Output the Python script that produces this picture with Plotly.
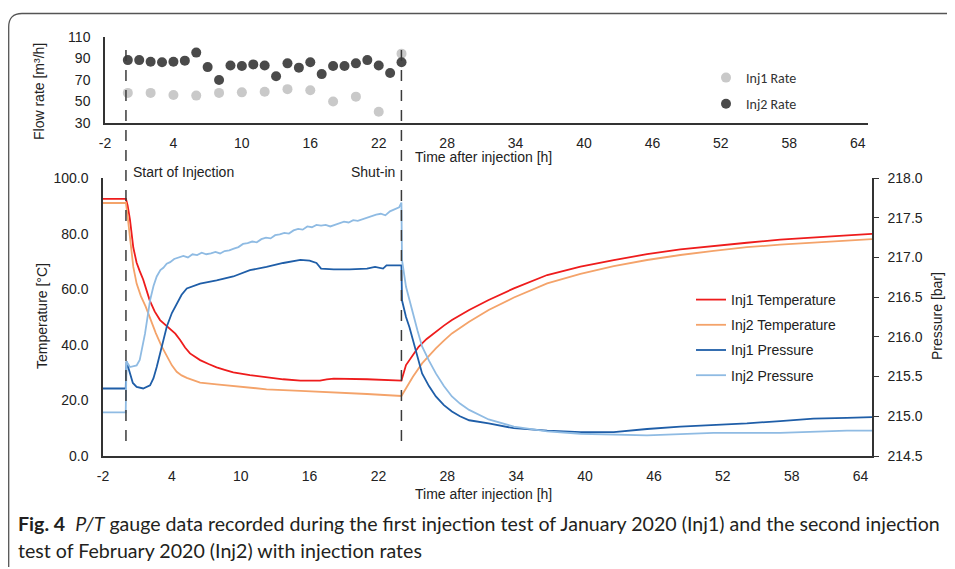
import plotly.graph_objects as go

# ---------------- data ----------------
# Flow rates (top panel)
rate1_t = [0, 2, 4, 6, 8, 10, 12, 14, 16, 18, 20, 22, 24]
rate1 = [58, 58, 56, 55.5, 58, 58.5, 59, 61.5, 60.5, 50, 54.5, 40.5, 94.5]
rate2_t = [0, 1, 2, 3, 4, 5, 6, 7, 8, 9, 10, 11, 12, 13, 14, 15, 16, 17, 18, 19, 20, 21, 22, 23, 24]
rate2 = [88.5, 88.5, 87, 86.5, 87, 88, 95.5, 82, 70, 83.5, 83, 84.5, 83.5, 73.5, 85.5,
         81.5, 86.5, 75.5, 83, 83, 85.5, 88.5, 83.5, 76.5, 86.5]

# Inj1 temperature [°C]
t_T1 = [-2, 0, 0.15, 0.35, 0.64, 0.93, 1.2, 1.5, 2.07, 2.5, 2.97, 3.4, 3.85, 4.3, 4.72, 5.15,
        5.58, 6.0, 6.46, 7.2, 7.9, 8.6, 9.35, 10.8, 12.25, 13.7, 15.2, 16.9, 17.5, 18.1, 21, 24,
        24.4, 25.0, 25.5, 26.2, 27, 27.7, 28.4, 29.9, 31.6, 33.8, 36.7, 39.6, 42.5, 45.4, 48.3,
        51.2, 54.1, 57.0, 59.9, 62.5, 65]
T1 = [92.5, 92.5, 90, 85, 75, 69.5, 66.5, 63.5, 56, 52, 48.9, 47.3, 45.9, 44, 41.7, 39,
      36.9, 35.6, 34.5, 33.1, 31.9, 31, 30.1, 29.1, 28.3, 27.6, 27.1, 27.1, 27.6, 27.8, 27.6, 27.1,
      32.7, 36.4, 39.3, 42.1, 44.7, 46.9, 48.9, 52.5, 56.1, 60.3, 65.1, 68.1, 70.5, 72.6, 74.3,
      75.6, 76.7, 77.8, 78.7, 79.3, 79.9]

# Inj2 temperature [°C]
t_T2 = [-2, 0, 0.15, 0.35, 0.64, 0.93, 1.3, 1.72, 2.15, 2.6, 3.1, 3.56, 4.0, 4.42, 4.85, 5.3,
        5.9, 6.46, 7.9, 9.35, 12.25, 15.2, 18.1, 21, 24,
        24.5, 25, 25.8, 26.4, 27, 27.7, 28.4, 29.9, 31.6, 33.8, 36.7, 39.6, 42.5, 45.4, 48.3,
        51.2, 54.1, 57.0, 59.9, 62.5, 65]
T2 = [91, 91, 86, 78, 68, 62, 57.5, 53.7, 49, 44.2, 39.5, 35.7, 32.6, 30.3, 29, 28.1,
      27.1, 26.4, 25.8, 25.2, 24, 23.4, 22.9, 22.3, 21.6,
      25.2, 28.5, 33.3, 36.1, 38.7, 41.5, 44.1, 48.3, 52.5, 57, 62.1, 65.5, 68.3, 70.5, 72.3,
      73.8, 75.1, 76, 76.7, 77.4, 78]

# Inj1 pressure [bar]
t_P1 = [-2, -0.02, 0.05, 0.3, 0.6, 0.93, 1.5, 2.1, 2.4, 2.68, 3.1, 3.56, 4.0, 4.42, 4.85, 5.3,
        6.46, 7.9, 9.35, 10.8, 12.25, 13.7, 15.2, 16.0, 16.6, 17.0, 18.1, 19.5, 21, 21.7, 22.1,
        22.4, 22.7, 24, 24.05, 24.4, 24.7, 25, 25.4, 25.8, 26.4, 27, 27.7, 28.4, 29.1, 29.9,
        31.6, 33.8, 36.7, 39.6, 42.5, 45.4, 48.3, 51.2, 54.1, 57.0, 59.9, 62.8, 65]
P1 = [215.35, 215.35, 215.69, 215.55, 215.42, 215.37, 215.35, 215.39, 215.48, 215.62, 215.88,
      216.13, 216.3, 216.42, 216.53, 216.61, 216.67, 216.71, 216.76, 216.84, 216.88, 216.93,
      216.97, 216.96, 216.93, 216.86, 216.85, 216.85, 216.86, 216.88, 216.87, 216.86, 216.9,
      216.9, 216.46, 216.25, 216.12, 215.96, 215.75, 215.54, 215.38, 215.25, 215.14, 215.06,
      215.0, 214.95, 214.91, 214.85, 214.82, 214.8, 214.8, 214.84, 214.87, 214.89, 214.91,
      214.94, 214.97, 214.98, 214.99]

# Inj2 pressure [bar]
t_P2 = [-2, -0.02, 0.05, 0.35, 0.93, 1.2, 1.66, 2.1, 2.4, 2.68, 3.0, 3.26, 3.55, 3.85,
        4.2, 4.6, 5.0, 5.4, 5.8, 6.2, 6.6, 7.0, 7.4, 7.8, 8.2, 8.6, 9.0, 9.4, 9.8, 10.2, 10.6,
        11.0, 11.4, 11.8, 12.2, 12.6, 13.0, 13.4, 13.8, 14.2, 14.6, 15.0, 15.4, 15.8, 16.2,
        16.6, 17.0, 17.4, 17.8, 18.2, 18.6, 19.0, 19.4, 19.8, 20.2, 20.6, 21.0, 21.4, 21.8,
        22.2, 22.6, 23.0, 23.4, 23.8, 24,
        24.05, 24.4, 24.7, 25, 25.4, 25.8, 26.4, 27, 27.7, 28.4, 29.1, 29.9, 31.6, 33.8, 36.7,
        39.6, 45.4, 51.2, 57.0, 62.8, 65]
P2 = [215.05, 215.05, 215.69, 215.62, 215.64, 215.71, 216.04, 216.46, 216.64, 216.76, 216.84,
      216.87, 216.92, 216.94,
      216.98, 217.0, 217.02, 217.0, 217.04, 217.03, 217.06, 217.04, 217.05, 217.07, 217.05,
      217.08, 217.09, 217.11, 217.13, 217.17, 217.18, 217.2, 217.19, 217.23, 217.25, 217.24,
      217.28, 217.29, 217.31, 217.3, 217.34, 217.36, 217.35, 217.39, 217.38, 217.41, 217.4,
      217.41, 217.39, 217.41, 217.43, 217.45, 217.44, 217.47, 217.46, 217.48, 217.5, 217.52,
      217.54, 217.55, 217.53, 217.58, 217.6, 217.63, 217.69,
      216.97, 216.63, 216.45, 216.3, 216.08, 215.88, 215.7, 215.54, 215.38, 215.25, 215.16,
      215.08, 214.96, 214.87, 214.81, 214.78, 214.76, 214.79, 214.79, 214.82, 214.82]

x_ticks = [-2, 4, 10, 16, 22, 28, 34, 40, 46, 52, 58, 64]
x_tick_labels = ["-2", "4", "10", "16", "22", "28", "34", "40", "46", "52", "58", "64"]
event_t = [0, 24]
event_labels = ["Start of Injection", "Shut-in"]

caption1 = ("<b>Fig. 4</b>  <i>P/T</i> gauge data recorded during the first injection test of "
            "January 2020 (Inj1) and the second injection")
caption2 = "test of February 2020 (Inj2) with injection rates"

# ---------------- figure ----------------
W, H = 955, 569
OFF = 8  # the page body adds an 8px margin around the figure


def py(p):
    return 1 - (p - OFF) / H


def px(p):
    return (p - OFF) / W


FONT = "Liberation Sans, Arial, sans-serif"
AX = "#333333"

fig = go.Figure()

fig.add_trace(go.Scatter(x=rate1_t, y=rate1, mode="markers", name="Inj1 Rate",
                         marker=dict(color="#c9c9c9", size=10), xaxis="x", yaxis="y",
                         legend="legend", legendgroup="a"))
fig.add_trace(go.Scatter(x=rate2_t, y=rate2, mode="markers", name="Inj2 Rate",
                         marker=dict(color="#4a4a4a", size=10), xaxis="x", yaxis="y",
                         legend="legend", legendgroup="b"))

fig.add_trace(go.Scatter(x=t_T1, y=T1, mode="lines", name="Inj1 Temperature",
                         line=dict(color="#ee1c1c", width=1.8), xaxis="x2", yaxis="y2",
                         legend="legend2", legendgroup="c"))
fig.add_trace(go.Scatter(x=t_T2, y=T2, mode="lines", name="Inj2 Temperature",
                         line=dict(color="#f4a36a", width=1.8), xaxis="x2", yaxis="y2",
                         legend="legend2", legendgroup="d"))
fig.add_trace(go.Scatter(x=t_P1, y=P1, mode="lines", name="Inj1 Pressure",
                         line=dict(color="#1f5ea8", width=1.8), xaxis="x2", yaxis="y3",
                         legend="legend2", legendgroup="e"))
fig.add_trace(go.Scatter(x=t_P2, y=P2, mode="lines", name="Inj2 Pressure",
                         line=dict(color="#8fbbe3", width=1.8), xaxis="x2", yaxis="y3",
                         legend="legend2", legendgroup="f"))

axis_common = dict(showgrid=False, zeroline=False, showline=True, linecolor=AX, linewidth=1.5,
                   tickfont=dict(family=FONT, size=14, color="#222222"), ticks="",
                   automargin=False)

fig.update_layout(
    template="none",
    width=W, height=H,
    margin=dict(l=0, r=0, t=0, b=0, pad=0, autoexpand=False),
    paper_bgcolor="white", plot_bgcolor="white",
    font=dict(family=FONT, size=14, color="#222222"),
    xaxis=dict(domain=[px(105), px(868)], range=[-2, 64.9], tickvals=x_ticks,
               ticktext=x_tick_labels, anchor="y", ticklabelstandoff=6, **axis_common),
    yaxis=dict(domain=[py(123), py(37)], range=[30, 110], tickvals=[30, 50, 70, 90, 110],
               anchor="x", ticklabelstandoff=10, **axis_common),
    xaxis2=dict(domain=[px(103), px(872)], range=[-2, 65], tickvals=x_ticks,
                ticktext=x_tick_labels, anchor="y2", ticklabelstandoff=6, **axis_common),
    yaxis2=dict(domain=[py(456), py(178)], range=[0, 100], tickvals=[0, 20, 40, 60, 80, 100],
                tickformat=".1f", anchor="x2", ticklabelstandoff=10, **axis_common),
    yaxis3=dict(domain=[py(456), py(178)], range=[214.5, 218], overlaying="y2", side="right",
                tickvals=[214.5, 215, 215.5, 216, 216.5, 217, 217.5, 218], tickformat=".1f",
                anchor="x2", showgrid=False, zeroline=False, showline=True, linecolor=AX,
                linewidth=1.5, ticks="outside", ticklen=5, tickcolor=AX, automargin=False,
                tickfont=dict(family=FONT, size=14, color="#222222"), ticklabelstandoff=6),
    legend=dict(x=px(706), y=py(62), xanchor="left", yanchor="top", bgcolor="rgba(0,0,0,0)",
                font=dict(family="Carlito, Open Sans, sans-serif", size=14, color="#333333"),
                tracegroupgap=5, itemwidth=30),
    legend2=dict(x=px(691), y=py(284), xanchor="left", yanchor="top", bgcolor="rgba(0,0,0,0)",
                 font=dict(family=FONT, size=14, color="#222222"), tracegroupgap=4, itemwidth=30),
    showlegend=True,
)

# event lines (span both panels)
shapes = []
for t in event_t:
    shapes.append(dict(type="line", xref="x2", yref="paper", x0=t, x1=t, y0=py(441), y1=py(48),
                       line=dict(color="#3a3a3a", width=1.5, dash="11px,9px"), layer="above"))
# frame
shapes.append(dict(type="path", xref="paper", yref="paper",
                   path=f"M {px(8.7)} {py(567)} L {px(8.7)} {py(27)} Q {px(8.7)} {py(13.5)} {px(22)} {py(13.5)} L 1 {py(13.5)}",
                   line=dict(color="#555555", width=1.3)))
fig.update_layout(shapes=shapes)

ann = []
ann.append(dict(x=0, xref="x2", xshift=5, y=py(172), yref="paper", text=event_labels[0],
                showarrow=False, xanchor="left", yanchor="middle", font=dict(family=FONT, size=14)))
ann.append(dict(x=24, xref="x2", xshift=-4, y=py(172), yref="paper", text=event_labels[1],
                showarrow=False, xanchor="right", yanchor="middle", font=dict(family=FONT, size=14)))
ann.append(dict(x=px(483), y=py(157), xref="paper", yref="paper", text="Time after injection [h]",
                showarrow=False, xanchor="center", yanchor="middle", font=dict(family=FONT, size=14)))
ann.append(dict(x=px(483), y=py(494), xref="paper", yref="paper", text="Time after injection [h]",
                showarrow=False, xanchor="center", yanchor="middle", font=dict(family=FONT, size=14)))
ann.append(dict(x=px(39), y=py(92), xref="paper", yref="paper", text="Flow rate [m³/h]",
                textangle=-90, showarrow=False, xanchor="center", yanchor="middle",
                font=dict(family=FONT, size=14)))
ann.append(dict(x=px(42), y=py(316), xref="paper", yref="paper", text="Temperature [°C]",
                textangle=-90, showarrow=False, xanchor="center", yanchor="middle",
                font=dict(family=FONT, size=14)))
ann.append(dict(x=px(937), y=py(316), xref="paper", yref="paper", text="Pressure [bar]",
                textangle=-90, showarrow=False, xanchor="center", yanchor="middle",
                font=dict(family=FONT, size=14)))
ann.append(dict(x=px(16), y=py(523), xref="paper", yref="paper", text=caption1,
                showarrow=False, xanchor="left", yanchor="middle",
                font=dict(family="Lato, sans-serif", size=19.6, color="#231f20")))
ann.append(dict(x=px(16), y=py(550), xref="paper", yref="paper", text=caption2,
                showarrow=False, xanchor="left", yanchor="middle",
                font=dict(family="Lato, sans-serif", size=19.6, color="#231f20")))
fig.update_layout(annotations=ann)

fig.write_html("out.html")
